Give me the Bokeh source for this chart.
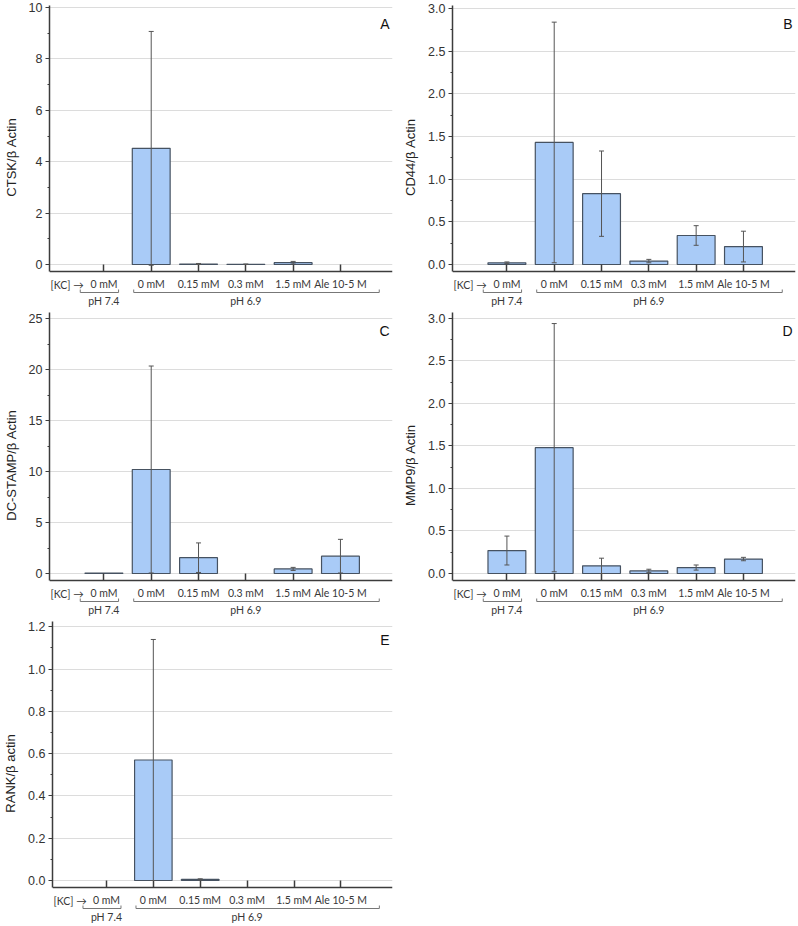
from bokeh.plotting import figure
from bokeh.models import (FixedTicker, LinearAxis, Range1d, Whisker, TeeHead,
                          ColumnDataSource, NumeralTickFormatter, Grid)
from bokeh.layouts import column, row
from bokeh.core.properties import value
from bokeh.embed import file_html
from bokeh.resources import INLINE

# ---------------- data ----------------
conc_labels = ["0 mM", "0 mM", "0.15 mM", "0.3 mM", "1.5 mM", "Ale 10-5 M"]
group_labels = ["pH 7.4", "pH 6.9"]
group_members = [[0], [1, 2, 3, 4, 5]]
kc_label = "[KC] \u2192"

ctsk_mean = [0.0, 4.52, 0.02, 0.01, 0.07, 0.0]
ctsk_err = [0.0, 4.55, 0.02, 0.01, 0.05, 0.0]
ctsk_ticks = [0, 2, 4, 6, 8, 10]
ctsk_minor = [1, 3, 5, 7, 9]

cd44_mean = [0.02, 1.43, 0.83, 0.04, 0.34, 0.21]
cd44_err = [0.01, 1.41, 0.50, 0.02, 0.115, 0.18]
cd44_ticks = [0.0, 0.5, 1.0, 1.5, 2.0, 2.5, 3.0]
cd44_minor = [0.25, 0.75, 1.25, 1.75, 2.25, 2.75]

dcst_mean = [0.05, 10.2, 1.55, 0.0, 0.45, 1.7]
dcst_err = [0.0, 10.15, 1.45, 0.0, 0.15, 1.65]
dcst_ticks = [0, 5, 10, 15, 20, 25]
dcst_minor = [2.5, 7.5, 12.5, 17.5, 22.5]

mmp9_mean = [0.27, 1.48, 0.09, 0.03, 0.07, 0.17]
mmp9_err = [0.17, 1.46, 0.09, 0.02, 0.03, 0.02]
mmp9_ticks = [0.0, 0.5, 1.0, 1.5, 2.0, 2.5, 3.0]
mmp9_minor = [0.25, 0.75, 1.25, 1.75, 2.25, 2.75]

rank_mean = [0.0, 0.57, 0.005, 0.0, 0.0, 0.0]
rank_err = [0.0, 0.57, 0.003, 0.0, 0.0, 0.0]
rank_ticks = [0.0, 0.2, 0.4, 0.6, 0.8, 1.0, 1.2]
rank_minor = [0.1, 0.3, 0.5, 0.7, 0.9, 1.1]

# ---------------- style ----------------
BAR_FILL = "#a9cbf7"
BAR_LINE = "#465261"
AXIS_COL = "#3c3c3c"
ERR_COL = "#555555"
GRID_COL = "#dcdcdc"
CAT_FONT = "Lato"
NUM_FONT = "Liberation Sans"
X_START, X_END = -1.15, 6.1
# bracket extents relative to first / last member of each group
BRACKET_PAD_L = [0.5, 0.37]
BRACKET_PAD_R = [0.31, 0.82]


def make_panel(letter, ylabel, mean, err, ticks, minor, ymax, fmt,
               width, height, left, right, top, axis_px):
    frame_h = height - top
    ppu = (axis_px - 7) / ymax
    axis_y = -7.0 / ppu
    ylo = ymax - frame_h / ppu

    p = figure(width=width, height=height,
               x_range=Range1d(X_START, X_END), y_range=Range1d(ylo, ymax),
               output_backend="svg", toolbar_location=None,
               x_axis_type=None, y_axis_type=None,
               min_border_left=left, min_border_right=right,
               min_border_top=top, min_border_bottom=0)
    p.outline_line_color = None
    p.background_fill_color = "white"
    p.border_fill_color = "white"

    yticker = FixedTicker(ticks=ticks, minor_ticks=minor)
    grid = Grid(dimension=1, ticker=yticker, grid_line_color=GRID_COL,
                grid_line_width=1)
    p.add_layout(grid)

    yaxis = LinearAxis(ticker=yticker, bounds=(axis_y, ymax),
                       formatter=NumeralTickFormatter(format=fmt),
                       axis_label=ylabel)
    yaxis.axis_line_color = AXIS_COL
    yaxis.axis_line_width = 1.5
    yaxis.major_tick_line_color = AXIS_COL
    yaxis.minor_tick_line_color = AXIS_COL
    yaxis.major_tick_out = 4
    yaxis.major_tick_in = 0
    yaxis.minor_tick_out = 2
    yaxis.minor_tick_in = 0
    yaxis.major_label_text_font = NUM_FONT
    yaxis.major_label_text_font_size = "12.5px"
    yaxis.major_label_text_color = "#333333"
    yaxis.major_label_standoff = 3
    yaxis.axis_label_text_font = NUM_FONT
    yaxis.axis_label_text_font_size = "13px"
    yaxis.axis_label_text_font_style = "normal"
    yaxis.axis_label_text_color = "#222222"
    yaxis.axis_label_standoff = 7
    p.add_layout(yaxis, "left")

    xaxis = LinearAxis(ticker=FixedTicker(ticks=list(range(len(conc_labels)))),
                       fixed_location=axis_y,
                       major_label_overrides={i: lab for i, lab in enumerate(conc_labels)})
    xaxis.axis_line_color = AXIS_COL
    xaxis.axis_line_width = 1.5
    xaxis.major_tick_line_color = AXIS_COL
    xaxis.major_tick_line_width = 1.5
    xaxis.major_tick_in = 7
    xaxis.major_tick_out = 0
    xaxis.minor_tick_in = 0
    xaxis.minor_tick_out = 0
    xaxis.major_label_text_font = CAT_FONT
    xaxis.major_label_text_font_size = "10.5px"
    xaxis.major_label_text_color = "#383838"
    xaxis.major_label_standoff = 6
    p.add_layout(xaxis, "below")

    # bars (only non-zero means are drawn)
    bx = [i for i, m in enumerate(mean) if m > 0]
    bsrc = ColumnDataSource(dict(x=bx, top=[mean[i] for i in bx]))
    p.vbar(x="x", top="top", bottom=0, width=0.8, source=bsrc,
           fill_color=BAR_FILL, line_color=BAR_LINE, line_width=1.2)

    # error bars
    ex = [i for i, e in enumerate(err) if e > 0]
    esrc = ColumnDataSource(dict(x=ex,
                                 upper=[mean[i] + err[i] for i in ex],
                                 lower=[mean[i] - err[i] for i in ex]))
    wh = Whisker(source=esrc, base="x", upper="upper", lower="lower",
                 line_color=ERR_COL, line_width=1, level="overlay",
                 upper_head=TeeHead(size=5, line_color=ERR_COL, line_width=1),
                 lower_head=TeeHead(size=5, line_color=ERR_COL, line_width=1))
    p.add_layout(wh)

    # [KC] label
    p.text(x=[X_START], y=[axis_y], text=[kc_label], x_offset=1, y_offset=13,
           text_align="left", text_baseline="middle",
           text_font=value(CAT_FONT), text_font_size="10.5px",
           text_color="#383838")

    # group brackets and pH labels
    yb = axis_y - 21.0 / ppu
    yt = axis_y - 18.0 / ppu
    xs, ys, cx = [], [], []
    for g, mem in enumerate(group_members):
        s = mem[0] - BRACKET_PAD_L[g]
        e = mem[-1] + BRACKET_PAD_R[g]
        xs.append([s, s, e, e])
        ys.append([yt, yb, yb, yt])
        cx.append(sum(mem) / len(mem))
    p.multi_line(xs=xs, ys=ys, line_color="#777777", line_width=1)
    p.text(x=cx, y=[axis_y] * len(cx), text=group_labels, y_offset=29.5,
           text_align="center", text_baseline="middle",
           text_font=value(CAT_FONT), text_font_size="10.5px",
           text_color="#383838")

    # panel letter
    p.text(x=[X_END], y=[ymax], text=[letter], x_offset=-3, y_offset=18,
           text_align="right", text_baseline="middle",
           text_font=value(NUM_FONT), text_font_size="14px",
           text_color="#111111")
    return p


W1, W2 = 400, 398
L1, R1 = 47, 8
L2, R2 = 47, 3

pA = make_panel("A", "CTSK/\u03b2 Actin", ctsk_mean, ctsk_err, ctsk_ticks, ctsk_minor,
                10.08, "0", W1, 309, L1, R1, 5, 266)
pB = make_panel("B", "CD44/\u03b2 Actin", cd44_mean, cd44_err, cd44_ticks, cd44_minor,
                3.035, "0.0", W2, 309, L2, R2, 5, 266)
pC = make_panel("C", "DC-STAMP/\u03b2 Actin", dcst_mean, dcst_err, dcst_ticks, dcst_minor,
                25.6, "0", W1, 309, L1, R1, 3, 268)
pD = make_panel("D", "MMP9/\u03b2 Actin", mmp9_mean, mmp9_err, mmp9_ticks, mmp9_minor,
                3.07, "0.0", W2, 309, L2, R2, 3, 268)
pE = make_panel("E", "RANK/\u03b2 actin", rank_mean, rank_err, rank_ticks, rank_minor,
                1.225, "0.0", W1, 307, L1, R1, 3, 266)

layout = column(row(pA, pB), row(pC, pD), row(pE))
open("out.html", "w").write(file_html(layout, INLINE))
